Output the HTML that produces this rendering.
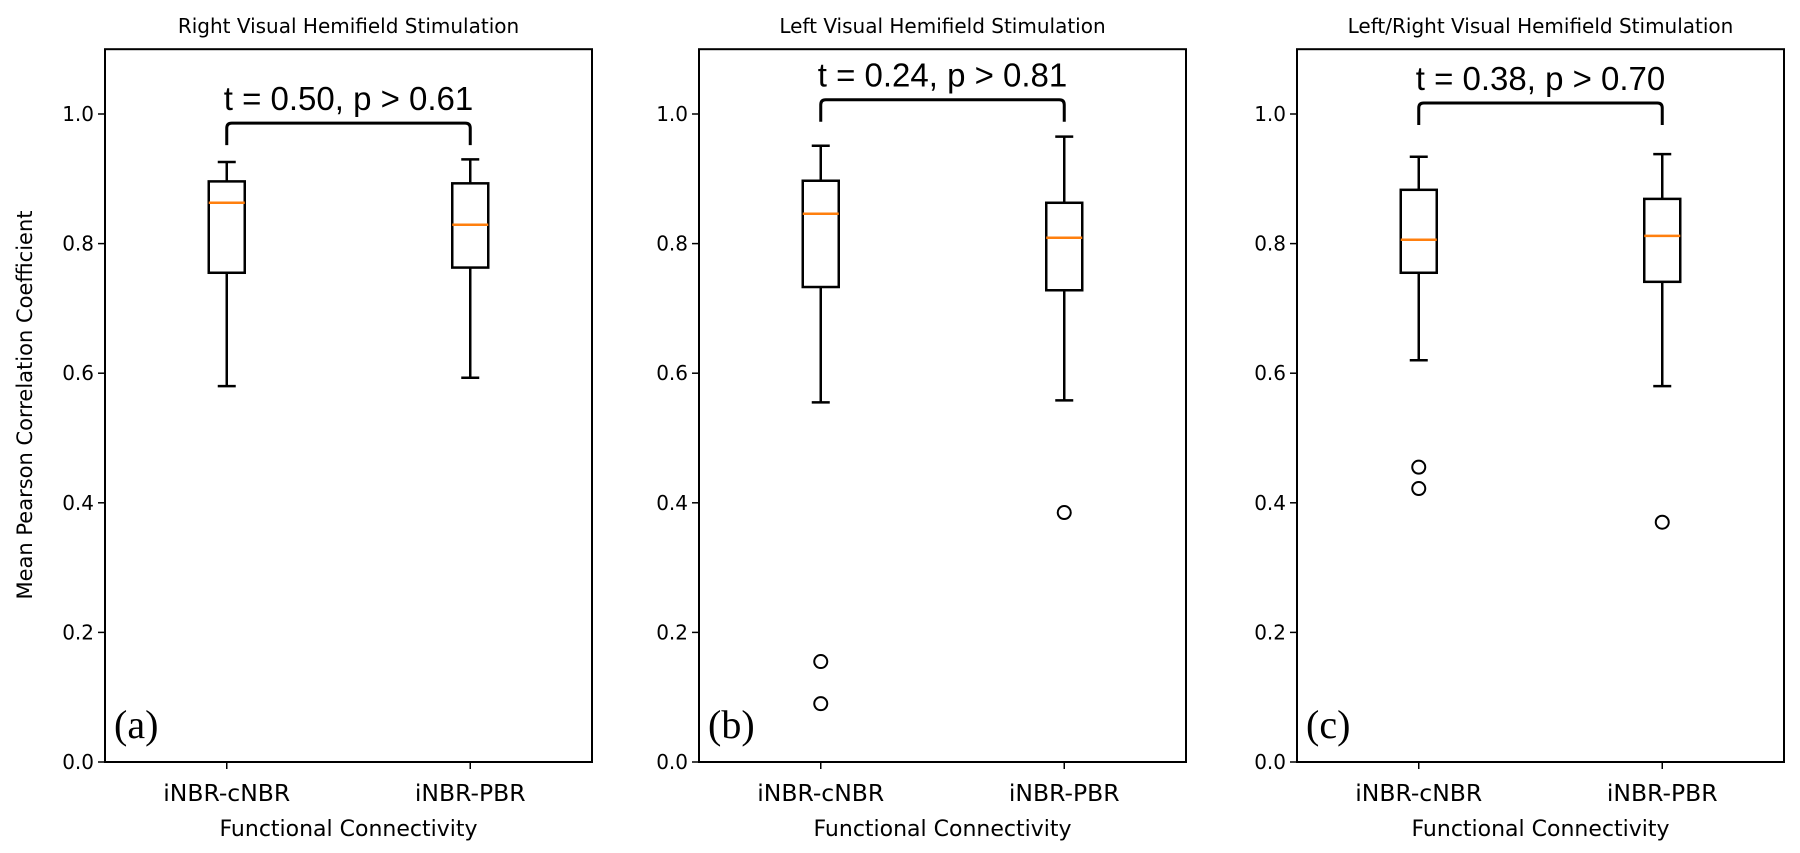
<!DOCTYPE html>
<html><head><meta charset="utf-8"><style>
html,body{margin:0;padding:0;background:#fff;}
svg{display:block;}
</style></head><body>
<svg id="chart" width="1800" height="853" xmlns="http://www.w3.org/2000/svg"></svg>
<script>
const panelTitles = ["Right Visual Hemifield Stimulation","Left Visual Hemifield Stimulation","Left/Right Visual Hemifield Stimulation"];
const panelLetters = ["(a)","(b)","(c)"];
const statLabels = ["t = 0.50, p > 0.61","t = 0.24, p > 0.81","t = 0.38, p > 0.70"];
const categories = ["iNBR-cNBR","iNBR-PBR"];
const yTicks = [0.0,0.2,0.4,0.6,0.8,1.0];
const yTickLabels = ["0.0","0.2","0.4","0.6","0.8","1.0"];
// per panel: [cnbr, pbr] -> [low whisker, Q1, median, Q3, high whisker]
const statsA = [[0.580,0.755,0.863,0.896,0.926],[0.593,0.763,0.829,0.893,0.930]];
const statsB = [[0.555,0.733,0.846,0.897,0.951],[0.558,0.728,0.809,0.863,0.965]];
const statsC = [[0.620,0.755,0.806,0.883,0.934],[0.580,0.741,0.812,0.869,0.938]];
const outliersA = [[],[]];
const outliersB = [[0.155,0.090],[0.385]];
const outliersC = [[0.455,0.422],[0.370]];
const braceY = [0.986,1.022,1.017];

const svg = document.getElementById('chart');
const NS = "http://www.w3.org/2000/svg";
function mk(tag, attrs, parent){const e=document.createElementNS(NS,tag);for(const k in attrs)e.setAttribute(k,attrs[k]);(parent||svg).appendChild(e);return e;}
const panelLeft=[105,699,1297], PW=487;
const yScale = v => 762 - 648*v;
const Y0 = yScale(1.1);
const allStats=[statsA,statsB,statsC], allOut=[outliersA,outliersB,outliersC];

const yl = mk('text',{x:32,y:405,'font-family':'DejaVu Sans, sans-serif','font-size':21,'text-anchor':'middle',transform:'rotate(-90 32 405)',fill:'#000'});


yl.textContent="Mean Pearson Correlation Coefficient";

for(let p=0;p<3;p++){
  const L=panelLeft[p];
  const xScale = i => L + PW*(i+0.5)/2;
  const g = mk('g',{});
  
  
  const t=mk('text',{x:L+PW/2,y:33,'font-family':'DejaVu Sans, sans-serif','font-size':20,'text-anchor':'middle'},g);
  
  
  t.textContent=panelTitles[p];
  const fr=mk('rect',{x:L,y:Y0,width:PW,height:yScale(0)-Y0,fill:'none',stroke:'#000','stroke-width':2},g);
  
  
  yTicks.forEach((v,i)=>{
    const y=yScale(v);
    mk('line',{x1:L-7,x2:L,y1:y,y2:y,stroke:'#000','stroke-width':1.5},g);
    const tl=mk('text',{x:L-11,y:y+7,'font-family':'DejaVu Sans, sans-serif','font-size':20,'text-anchor':'end'},g);
    
    
    tl.textContent=yTickLabels[i];
  });
  categories.forEach((c,i)=>{
    const x=xScale(i);
    mk('line',{x1:x,x2:x,y1:yScale(0),y2:yScale(0)+7,stroke:'#000','stroke-width':1.5},g);
    const tl=mk('text',{x:x,y:801,'font-family':'DejaVu Sans, sans-serif','font-size':23.5,'text-anchor':'middle'},g);
    
    
    tl.textContent=c;
    const s=allStats[p][i], hw=18, cw=9;
    const box=mk('g',{},g);
    
    
    mk('line',{x1:x,x2:x,y1:yScale(s[0]),y2:yScale(s[1]),stroke:'#000','stroke-width':2.5},box);
    mk('line',{x1:x,x2:x,y1:yScale(s[3]),y2:yScale(s[4]),stroke:'#000','stroke-width':2.5},box);
    mk('line',{x1:x-cw,x2:x+cw,y1:yScale(s[0]),y2:yScale(s[0]),stroke:'#000','stroke-width':2.5},box);
    mk('line',{x1:x-cw,x2:x+cw,y1:yScale(s[4]),y2:yScale(s[4]),stroke:'#000','stroke-width':2.5},box);
    mk('rect',{x:x-hw,y:yScale(s[3]),width:2*hw,height:yScale(s[1])-yScale(s[3]),fill:'#fff',stroke:'#000','stroke-width':2.5},box);
    mk('line',{x1:x-hw,x2:x+hw,y1:yScale(s[2]),y2:yScale(s[2]),stroke:'#ff7f0e','stroke-width':2.5},box);
    allOut[p][i].forEach(o=>{
      const ci=mk('circle',{cx:x,cy:yScale(o),r:6.5,fill:'none',stroke:'#000','stroke-width':2},box);
      
      
    });
  });
  const xa=xScale(0), xb=xScale(1), by=yScale(braceY[p]), bb=by+22;
  const br=mk('path',{d:`M${xa},${bb} L${xa},${by+5} Q${xa},${by} ${xa+5},${by} L${xb-5},${by} Q${xb},${by} ${xb},${by+5} L${xb},${bb}`,fill:'none',stroke:'#000','stroke-width':3},g);
  
  
  const st=mk('text',{x:(xa+xb)/2,y:by-13,'font-family':'Liberation Sans, sans-serif','font-size':33,'text-anchor':'middle'},g);
  
  
  st.textContent=statLabels[p];
  const pl=mk('text',{x:L+9,y:738,'font-family':'Liberation Serif, serif','font-size':40},g);
  
  
  pl.textContent=panelLetters[p];
  const xl=mk('text',{x:L+PW/2,y:836,'font-family':'DejaVu Sans, sans-serif','font-size':22,'text-anchor':'middle'},g);
  
  
  xl.textContent="Functional Connectivity";
}
</script>
</body></html>
